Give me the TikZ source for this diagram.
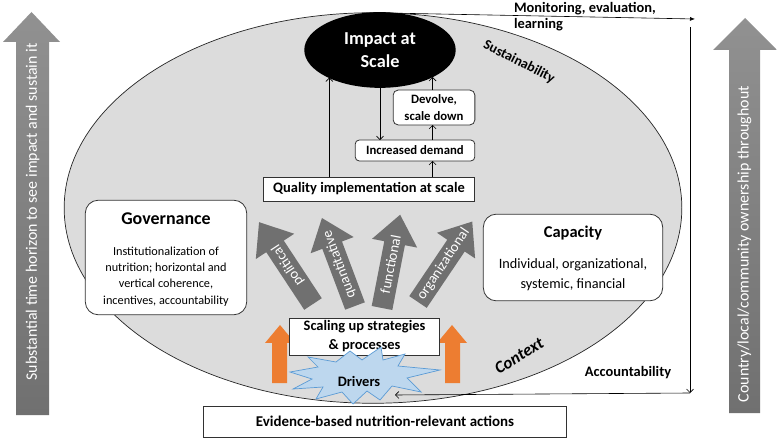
\documentclass[tikz,border=0pt]{standalone}
\usepackage{fontspec}
\setmainfont{Carlito}
\usetikzlibrary{arrows.meta,calc,shapes.geometric}

\definecolor{ellgray}{RGB}{220,220,220}
\definecolor{darkarr}{RGB}{112,112,112}
\definecolor{sidetop}{RGB}{145,145,145}
\definecolor{sidebot}{RGB}{112,112,112}
\definecolor{orangearr}{RGB}{237,125,49}
\definecolor{drvfill}{RGB}{189,215,238}
\definecolor{drvline}{RGB}{91,155,213}
\definecolor{boxline}{RGB}{50,50,50}

\newcommand\fsz[2]{\fontsize{#1}{#2}\selectfont}

\newcommand\fatarrow[5]{%
  \begin{scope}[shift={(#1)},rotate=#2]
    \fill[darkarr] (0,10.5) -- ({#3-29},10.5) -- ({#3-29},23) -- (#3,0) -- ({#3-29},-23) -- ({#3-29},-10.5) -- (0,-10.5) -- cycle;
    \node[transform shape, text=white, font=\fsz{14.5}{16}, inner sep=0] (#5) at ({0.47*#3},0) {#4};
  \end{scope}}

\tikzset{
  sqbox/.style={draw=boxline, fill=white, line width=0.8bp, inner sep=0, outer sep=0},
  rbox/.style={sqbox, rounded corners=#1},
  arr/.style={-{Straight Barb[length=3.5bp,width=7bp]}, line width=0.6bp},
  lbl/.style={inner sep=0, outer sep=0}
}

\begin{document}
\begin{tikzpicture}[x=1bp,y=-1bp]
\useasboundingbox (0,0) rectangle (777,439);

% side arrows
\shade[top color=sidetop,bottom color=sidebot] (16,415) -- (16,42) -- (3,42) -- (31.5,12) -- (60,42) -- (49,42) -- (49,415) -- cycle;
\node[lbl, rotate=90, text=white, font=\fsz{16}{18}] (lefttxt) at (32.5,212) {Substantial time horizon to see impact and sustain it};
\shade[top color=sidetop,bottom color=sidebot] (729,413) -- (729,50) -- (713,50) -- (745,18) -- (777,50) -- (760,50) -- (760,413) -- cycle;
\node[lbl, rotate=90, text=white, font=\fsz{16}{18}] (righttxt) at (744.5,244) {Country/local/community ownership throughout};

% context ellipse
\node[ellipse, draw=black!85, line width=0.7bp, fill=ellgray, minimum width=620, minimum height=392, inner sep=0, outer sep=0] (ctx) at (373,208) {};

% monitoring & accountability lines
\coordinate (montip) at (695,19);
\coordinate (acctop) at (690,27);
\coordinate (accbot) at (690,393);
\coordinate (accend) at (395,395);
\draw[-{Latex[length=5bp,width=4bp]}, line width=0.6bp] (ctx.north) -- (montip);
\draw[arr] (acctop) -- (accbot);

% impact
\node[ellipse, fill=black, minimum width=152, minimum height=76, inner sep=0, outer sep=0, text=white, align=center, font=\bfseries\fsz{18.3}{23}] (impact) at (380,50) {Impact at\\Scale};

% boxes
\node[sqbox, minimum width=212, minimum height=24, font=\bfseries\fsz{14.5}{16}] (qual) at (369,189) {Quality implementation at scale};
\node[rbox=4, minimum width=120, minimum height=21, font=\bfseries\fsz{12.8}{14}] (demand) at (415,150.5) {Increased demand};
\node[rbox=5, minimum width=82, minimum height=35, align=center, font=\bfseries\fsz{12.8}{17}] (devolve) at (434,107.5) {Devolve,\\scale down};

\node[rbox=13, minimum width=162, minimum height=115] (gov) at (166,257.5) {};
\node[lbl, font=\bfseries\fsz{18}{20}] (govt) at (166,219) {Governance};
\node[lbl, align=center, font=\fsz{12.3}{16.5}] (govb) at (166,276.5) {Institutionalization of\\nutrition; horizontal and\\vertical coherence,\\incentives, accountability};

\node[rbox=13, minimum width=180, minimum height=87] (cap) at (573,257.5) {};
\node[lbl, font=\bfseries\fsz{16.5}{18}] (capt) at (573,233) {Capacity};
\node[lbl, align=center, font=\fsz{14.3}{20}] (capb) at (573,275) {Individual, organizational,\\systemic, financial};

% connectors at top
\coordinate (qa) at ($(qual.north west)+(66,0)$);
\coordinate (qb) at ($(qual.north east)+(-42,0)$);
\draw[arr] (qa) -- (qa |- impact.208.8);
\draw[arr] (impact.south) -- (impact.south |- demand.north);
\draw[arr] (qb) -- (qb |- demand.south);
\draw[arr] (qb |- demand.north) -- (qb |- devolve.south);
\draw[arr] (qb |- devolve.north) -- (qb |- impact.333);

% fat arrows
\fatarrow{313,304}{123.4}{98}{political}{apol}
\fatarrow{355,306}{110.6}{94}{quantitative}{aquan}
\fatarrow{382,308}{79}{95}{functional}{afun}
\fatarrow{418,302}{56}{97}{organizational}{aorg}

% orange arrows
\fill[orangearr] (272,383) -- (272,343) -- (265,343) -- (280,325) -- (295,343) -- (287,343) -- (287,383) -- cycle;
\fill[orangearr] (445,383) -- (445,343) -- (437,343) -- (452,325) -- (467,343) -- (460,343) -- (460,383) -- cycle;

% scaling box
\node[sqbox, minimum width=151, minimum height=37, align=center, font=\bfseries\fsz{14.5}{19}] (scal) at (364.5,336.5) {Scaling up strategies\\\& processes};

% drivers
\draw[fill=drvfill, draw=drvline, line width=0.7bp, line join=miter]
  (290,372) -- (318,367) -- (308,357) -- (336,362) -- (350,351) -- (362,360) -- (381,347) -- (383,360) -- (405,354) -- (398,366) -- (440,370) -- (407,378) -- (421,392) -- (392,386) -- (380,400) -- (367,391) -- (353,404) -- (342,392) -- (316,399) -- (323,387) -- (293,389) -- (312,379) -- cycle;
\node[lbl, font=\bfseries\fsz{14.5}{16}] (drv) at (359,381) {Drivers};

\draw[arr] (accbot) -- (accend);

% evidence box
\node[sqbox, minimum width=364, minimum height=31, font=\bfseries\fsz{15}{17}] (evid) at (385,421.5) {Evidence-based nutrition-relevant actions};

% labels
\node[lbl, anchor=north west, align=left, font=\bfseries\fsz{14.5}{15.5}] (mon) at (514,2.7) {Monitoring, evaluation,\\learning};
\node[lbl, font=\bfseries\fsz{14.5}{16}] (acct) at (628,373) {Accountability};
\node[lbl, rotate=-27, font=\bfseries\fsz{14}{15}] (sust) at (519,62) {Sustainability};
\node[lbl, rotate=31, font=\bfseries\itshape\fsz{17}{19}] (context) at (519,356) {Context};
\end{tikzpicture}
\end{document}
